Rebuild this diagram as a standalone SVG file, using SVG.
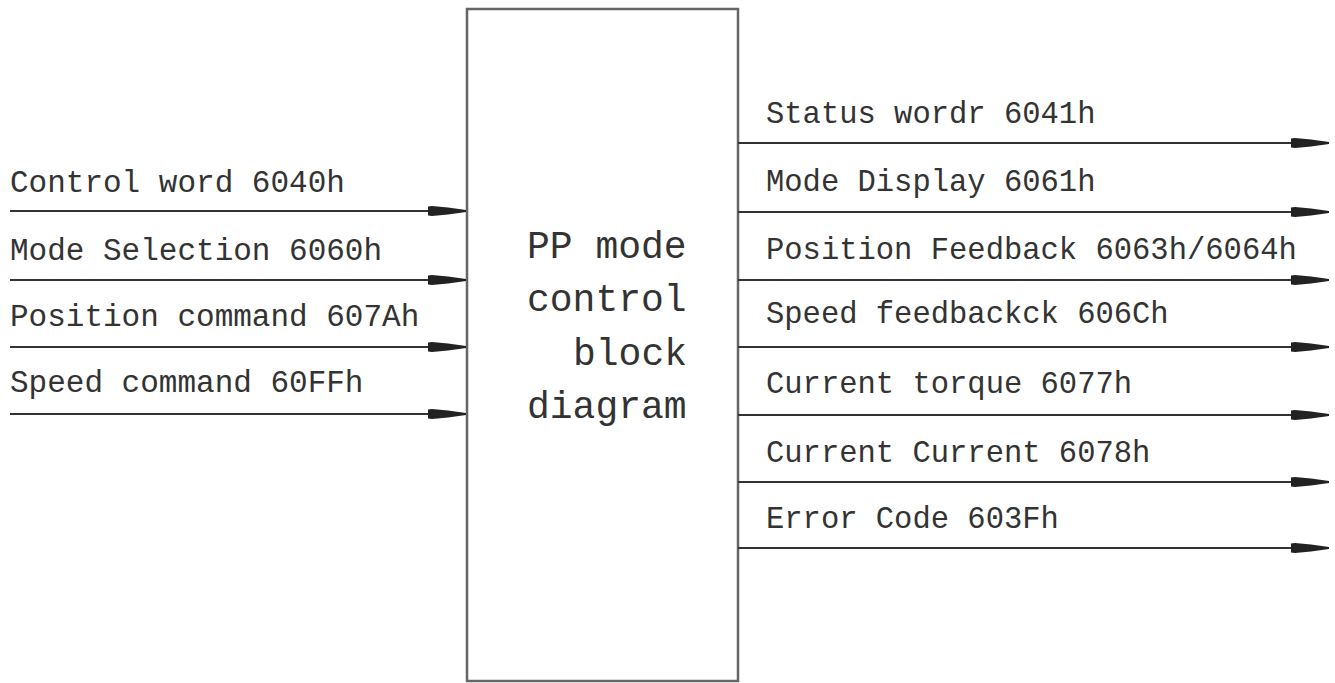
<svg xmlns="http://www.w3.org/2000/svg" width="1335" height="683" viewBox="0 0 1335 683">
  <style>
    .lbl { font-family: "Liberation Mono", "DejaVu Sans Mono", monospace; font-size: 31px; fill: #333; }
    .rl { font-size: 30.5px; }
    .ctr { font-family: "Liberation Mono", "DejaVu Sans Mono", monospace; font-size: 38px; fill: #333; }
    .ln { stroke: #333; stroke-width: 2; fill: none; marker-end: url(#arr); }
    .box { fill: #fff; stroke: #666; stroke-width: 2.5; }
  </style>
  <defs>
    <marker id="arr" markerUnits="userSpaceOnUse" viewBox="0 0 38 10" refX="37" refY="5" markerWidth="38" markerHeight="10" orient="auto">
      <path d="M0,0.5 L4,0 L20,1.5 L38,4 L38,6 L20,8.5 L4,10 L0,9.5 Z" fill="#222"/>
    </marker>
  </defs>
  <rect width="1335" height="683" fill="#fff"/>

  <g id="block">
    <rect class="box" x="467" y="9" width="271" height="672"/>
    <text class="ctr" x="527" y="258">PP mode</text>
    <text class="ctr" x="527" y="311">control</text>
    <text class="ctr" x="573" y="365">block</text>
    <text class="ctr" x="527" y="418">diagram</text>
  </g>

  <g id="inputs">
    <text class="lbl" x="10" y="192">Control word 6040h</text>
    <text class="lbl" x="10" y="260">Mode Selection 6060h</text>
    <text class="lbl" x="10" y="326">Position command 607Ah</text>
    <text class="lbl" x="10" y="392">Speed command 60FFh</text>
  </g>

  <g id="outputs">
    <text class="lbl rl" x="766" y="123">Status wordr 6041h</text>
    <text class="lbl rl" x="766" y="191">Mode Display 6061h</text>
    <text class="lbl rl" x="766" y="259">Position Feedback 6063h/6064h</text>
    <text class="lbl rl" x="766" y="323">Speed feedbackck 606Ch</text>
    <text class="lbl rl" x="766" y="393">Current torque 6077h</text>
    <text class="lbl rl" x="766" y="462">Current Current 6078h</text>
    <text class="lbl rl" x="766" y="528">Error Code 603Fh</text>
  </g>

  <g id="connectors">
    <path class="ln" d="M10,211 H465"/>
    <path class="ln" d="M10,280 H465"/>
    <path class="ln" d="M10,347 H465"/>
    <path class="ln" d="M10,414 H465"/>
    <path class="ln" d="M738,143 H1328"/>
    <path class="ln" d="M738,212 H1328"/>
    <path class="ln" d="M738,280 H1328"/>
    <path class="ln" d="M738,347 H1328"/>
    <path class="ln" d="M738,415 H1328"/>
    <path class="ln" d="M738,482 H1328"/>
    <path class="ln" d="M738,548 H1328"/>
  </g>
</svg>
